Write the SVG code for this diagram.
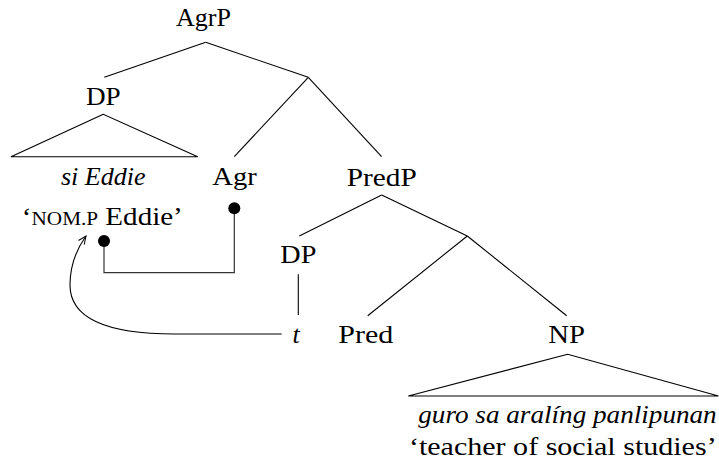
<svg xmlns="http://www.w3.org/2000/svg" width="719" height="470" viewBox="0 0 719 470">
<style>
text{font-family:"Liberation Serif","Times New Roman",serif;font-size:26px;fill:#000;text-anchor:middle}
.it{font-style:italic}
.sc{font-size:19px}
.edge{stroke:#000;stroke-width:1.1;fill:none}
.link{stroke:#333;stroke-width:1.2;fill:none}
.dot{fill:#000}
</style>
<defs>
<marker id="arr" viewBox="0 0 10 10" refX="9" refY="5" markerWidth="10" markerHeight="10" markerUnits="userSpaceOnUse" orient="auto">
<path d="M1,1.5 L9,5 L1,8.5" fill="none" stroke="#000" stroke-width="1"/>
</marker>
</defs>
<g id="connectors">
<line class="edge" x1="205.7" y1="42.3" x2="104.3" y2="77.3"/>
<line class="edge" x1="205.7" y1="42.3" x2="308.3" y2="77.3"/>
<line class="edge" x1="308.3" y1="77.3" x2="234.3" y2="156.7"/>
<line class="edge" x1="308.3" y1="77.3" x2="381.6" y2="156.7"/>
<polygon class="edge" points="103.3,114.3 11,156.7 197.7,156.7"/>
<line class="edge" x1="381.7" y1="195" x2="299.3" y2="236"/>
<line class="edge" x1="381.7" y1="195" x2="467.3" y2="236"/>
<line class="edge" x1="298.3" y1="274.3" x2="298.3" y2="315"/>
<line class="edge" x1="467.3" y1="236" x2="367.7" y2="315.7"/>
<line class="edge" x1="467.3" y1="236" x2="566.7" y2="315.7"/>
<polygon class="edge" points="567.7,354.3 408.3,396 718.5,396"/>
<path class="link" d="M234.3,208.3 V272.7 H104 V241"/>
<circle class="dot" cx="234.3" cy="208.3" r="6"/>
<circle class="dot" cx="104" cy="241" r="6"/>
<path class="edge" d="M281.7,334 L175,334 C110,334 70,320 70,285 C70,265 76,250 86,236" marker-end="url(#arr)"/>
</g>
<g id="n-agrp"><text x="203.5" y="26" textLength="55" lengthAdjust="spacingAndGlyphs">AgrP</text></g>
<g id="n-dp1"><text x="103.3" y="105" textLength="34.7" lengthAdjust="spacingAndGlyphs">DP</text></g>
<g id="n-sieddie"><text class="it" x="103.3" y="185" textLength="84.7" lengthAdjust="spacingAndGlyphs">si Eddie</text></g>
<g id="n-gloss1"><text x="102.3" y="225" textLength="161" lengthAdjust="spacingAndGlyphs">‘<tspan class="sc">NOM.P</tspan> Eddie’</text></g>
<g id="n-agr"><text x="234.5" y="185" textLength="44.4" lengthAdjust="spacingAndGlyphs">Agr</text></g>
<g id="n-predp"><text x="381.7" y="186" textLength="70" lengthAdjust="spacingAndGlyphs">PredP</text></g>
<g id="n-dp2"><text x="298.3" y="263.3" textLength="36" lengthAdjust="spacingAndGlyphs">DP</text></g>
<g id="n-t"><text class="it" x="296" y="343">t</text></g>
<g id="n-pred"><text x="365.8" y="343" textLength="55" lengthAdjust="spacingAndGlyphs">Pred</text></g>
<g id="n-np"><text x="566.7" y="343" textLength="36.7" lengthAdjust="spacingAndGlyphs">NP</text></g>
<g id="n-guro"><text class="it" x="567.5" y="423" textLength="298.4" lengthAdjust="spacingAndGlyphs">guro sa aralíng panlipunan</text></g>
<g id="n-gloss2"><text x="562.8" y="455" textLength="307.7" lengthAdjust="spacingAndGlyphs">‘teacher of social studies’</text></g>
</svg>
